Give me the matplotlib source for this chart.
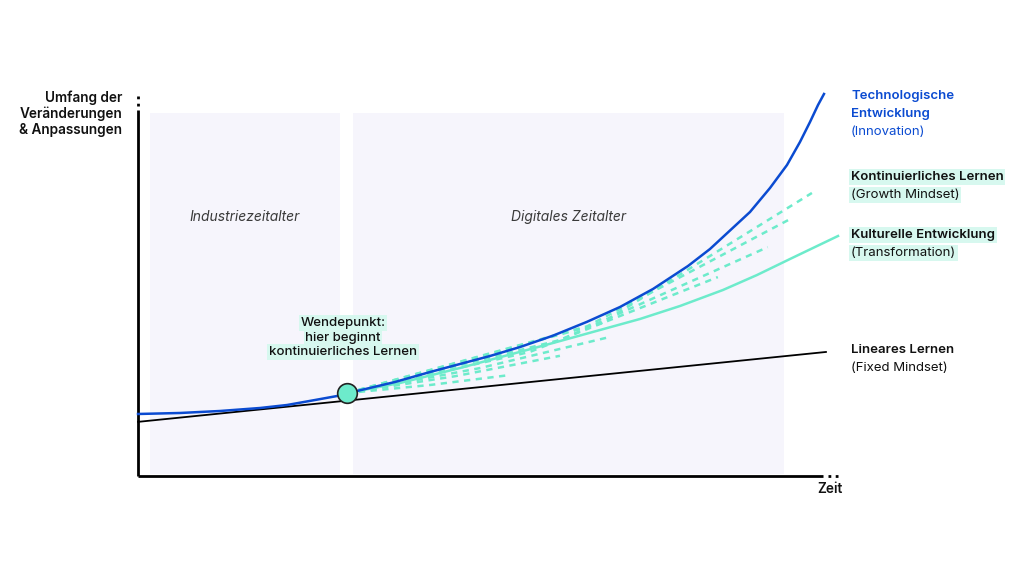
import matplotlib.pyplot as plt

plt.rcParams['font.family'] = ['Inter', 'DejaVu Sans']

# chart units: x = time (0..100), y = scope of change (0..100)
tech_x = [0, 5.98, 11.68, 17.38, 21.23, 25.21, 28.35, 31.20, 36.61, 41.60, 45.87, 50.14,
          54.42, 59.12, 63.96, 68.66, 73.36, 78.35, 81.48, 87.18, 90.03, 92.45, 94.30,
          95.73, 96.87, 97.72]
tech_y = [16.15, 16.41, 16.93, 17.71, 18.49, 19.79, 20.83, 22.14, 24.48, 27.08, 29.17, 31.25,
          33.59, 36.55, 40.15, 44.01, 48.70, 54.69, 59.11, 68.75, 75.00, 80.99, 86.98,
          92.19, 96.61, 99.48]

cult_x = [29.77, 37.32, 45.87, 59.12, 65.81, 71.51, 77.21, 83.33, 88.18, 92.88, 99.72]
cult_y = [21.61, 24.22, 28.13, 34.64, 38.02, 40.89, 44.27, 48.44, 52.34, 56.51, 62.50]

lin_x = [0, 98.0]
lin_y = [14.1, 32.3]

turn_x, turn_y = 29.8, 21.6

# dashed "continuous learning" paths: (mid, end) after the turning point
dash_mid_x = [41.6, 45.2, 48.7, 55.8, 60.1, 64.0, 66.0]
dash_mid_y = [23.7, 26.0, 28.1, 32.3, 35.4, 39.0, 39.8]
dash_end_x = [53.0, 60.1, 67.2, 82.6, 89.7, 93.2, 96.0]
dash_end_y = [26.3, 31.3, 36.2, 51.8, 59.6, 67.2, 73.7]

eras = ['Industriezeitalter', 'Digitales Zeitalter']
era_start = [1.7, 30.6]
era_end = [28.8, 92.0]

BLUE = '#0B4BD1'
TEAL = '#6DEBCB'
HILITE = '#D7F8EF'

fig = plt.figure(figsize=(10.24, 5.76), dpi=100)
ax = fig.add_axes([0.1348, 0.1736, 0.6855, 0.6667])
ax.set_xlim(0, 100)
ax.set_ylim(0, 100)
ax.axis('off')

# era backgrounds
for name, s, e in zip(eras, era_start, era_end):
    ax.axvspan(s, e, ymin=0.005, ymax=0.945, color='#F6F5FC', lw=0, zorder=0)
    ax.text((s + e) / 2, 67.5, name, ha='center', va='center', style='italic',
            fontsize=10, color='#3a3a3a')

# axes with dotted ends
ax.plot([0, 0], [0, 95.3], color='black', lw=2, solid_capstyle='butt', clip_on=False)
ax.plot([0, 0], [96.3, 100], color='black', lw=2, ls=(0, (1, 1.6)), clip_on=False)
ax.plot([0, 97.6], [0, 0], color='black', lw=2, solid_capstyle='butt', clip_on=False)
ax.plot([98.3, 100], [0, 0], color='black', lw=2, ls=(0, (1, 1.6)), clip_on=False)

# lines
ax.plot(lin_x, lin_y, color='black', lw=1.3, zorder=3, clip_on=False)
for mx, my, ex, ey in zip(dash_mid_x, dash_mid_y, dash_end_x, dash_end_y):
    ax.plot([turn_x, mx, ex], [turn_y, my, ey], color=TEAL, lw=1.8,
            ls=(0, (2.5, 2.2)), zorder=3)
ax.plot(cult_x, cult_y, color=TEAL, lw=1.8, zorder=4, clip_on=False)
ax.plot(tech_x, tech_y, color=BLUE, lw=1.8, zorder=5, clip_on=False,
        solid_joinstyle='round')
ax.scatter([turn_x], [turn_y], s=200, color=TEAL, edgecolor='#222222', lw=1.2, zorder=6)

# turning point label
hl = dict(facecolor=HILITE, edgecolor='none', pad=1.2)
for i, line in enumerate(['Wendepunkt:', 'hier beginnt', 'kontinuierliches Lernen']):
    ax.text(29.2, 39.84 - i * 3.8, line, ha='center', va='center', fontsize=9.5,
            fontweight='medium', color='#111111', bbox=hl)

# axis titles
for i, line in enumerate(['Umfang der', 'Veränderungen', '& Anpassungen']):
    fig.text(122 / 1024, 1 - (98 + i * 16) / 576, line, ha='right', va='center',
             fontsize=9.8, fontweight='semibold', color='#111111')
fig.text(830 / 1024, 1 - 489 / 576, 'Zeit', ha='center', va='center',
         fontsize=9.8, fontweight='semibold', color='#111111')

# series labels at the right
labels = [
    (['Technologische', 'Entwicklung', '(Innovation)'], 96, BLUE, False),
    (['Kontinuierliches Lernen', '(Growth Mindset)'], 177, '#111111', True),
    (['Kulturelle Entwicklung', '(Transformation)'], 235, '#111111', True),
    (['Lineares Lernen', '(Fixed Mindset)'], 350, '#111111', False),
]
for lines, top, col, boxed in labels:
    for i, line in enumerate(lines):
        paren = line.startswith('(')
        fig.text(851 / 1024, 1 - (top + i * 18) / 576, line, ha='left', va='center',
                 fontsize=9.5, fontweight='normal' if paren else 'semibold',
                 color=col, bbox=hl if boxed else None)

fig.savefig('out.png', dpi=100, facecolor='white')
